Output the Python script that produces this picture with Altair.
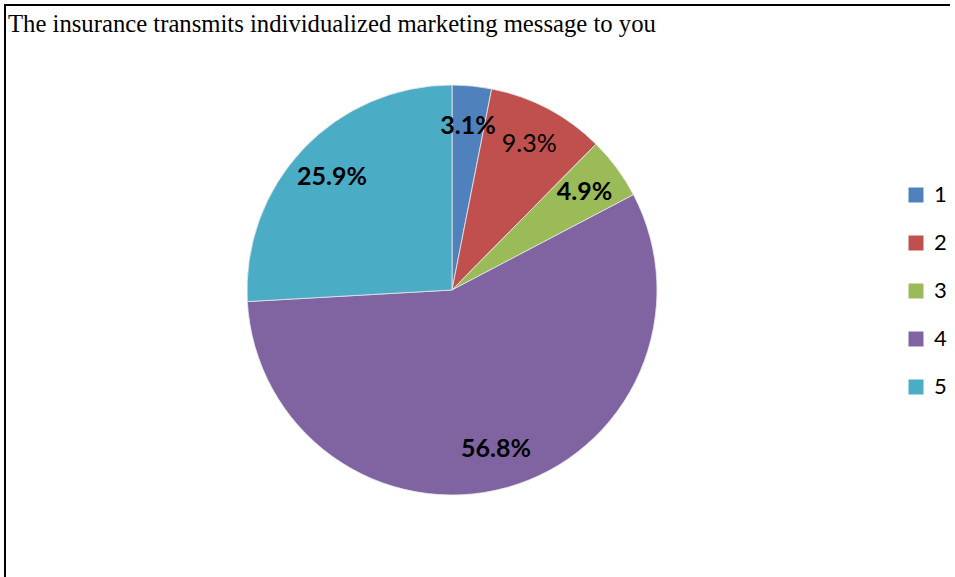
import altair as alt
import pandas as pd

title_text = "The insurance transmits individualized marketing message to you"
categories = ["1", "2", "3", "4", "5"]
percents = [3.1, 9.3, 4.9, 56.8, 25.9]
labels = ["3.1%", "9.3%", "4.9%", "56.8%", "25.9%"]
colors = ["#4F81BD", "#C0504D", "#9BBB59", "#8064A2", "#4BACC6"]
weights = ["bold", "normal", "bold", "bold", "bold"]

df = pd.DataFrame({
    "cat": categories,
    "pct": percents,
    "label": labels,
    "weight": weights,
    "order": list(range(len(categories))),
})

cx, cy, R = 452, 290, 205

pie = alt.Chart(df).mark_arc(radius=R, stroke="#e8e8e8", strokeWidth=0.8).encode(
    theta=alt.Theta("pct:Q", stack=True),
    order=alt.Order("order:Q", sort="ascending"),
    x=alt.value(cx), y=alt.value(cy),
    color=alt.Color(
        "cat:N",
        scale=alt.Scale(domain=categories, range=colors),
        legend=alt.Legend(
            title=None, orient="none", legendX=905, legendY=184,
            symbolType="square", symbolSize=225, symbolStrokeWidth=0,
            labelFontSize=22, labelFont="Lato", labelColor="#000000",
            rowPadding=26, padding=0, labelOffset=7,
        ),
    ),
)

label_base = alt.Chart(df).transform_joinaggregate(
    total="sum(pct)"
).transform_window(
    cum="sum(pct)", sort=[alt.SortField("order", order="ascending")],
    frame=[None, 0]
).transform_calculate(
    mid="2 * PI * (datum.cum - datum.pct / 2) / datum.total"
)


def label_layer(weight):
    return label_base.transform_filter(alt.datum.weight == weight).mark_text(
        radius=165, font="Lato", fontSize=25, fontWeight=weight, color="#000000"
    ).encode(
        theta=alt.Theta("mid:Q", scale=None),
        x=alt.value(cx), y=alt.value(cy), text="label:N",
    )


txt_bold = label_layer("bold")
txt_norm = label_layer("normal")

title_df = pd.DataFrame({"t": [title_text]})
title = alt.Chart(title_df).mark_text(
    font="Liberation Serif", fontSize=24.7, align="left", baseline="alphabetic",
    color="#000000"
).encode(x=alt.value(8), y=alt.value(32), text="t:N")

top_rule = alt.Chart(title_df).mark_rule(color="#000000", strokeWidth=2).encode(
    x=alt.value(4), x2=alt.value(950), y=alt.value(5))
left_rule = alt.Chart(title_df).mark_rule(color="#000000", strokeWidth=2).encode(
    x=alt.value(5), y=alt.value(4), y2=alt.value(577))

chart = alt.layer(pie, txt_bold, txt_norm, title, top_rule, left_rule).properties(
    width=955, height=577, padding=0, autosize=alt.AutoSizeParams(type="none"),
    background="#ffffff",
).configure_view(stroke=None)

chart.save("out.html", embed_options={"renderer": "svg", "actions": False})
